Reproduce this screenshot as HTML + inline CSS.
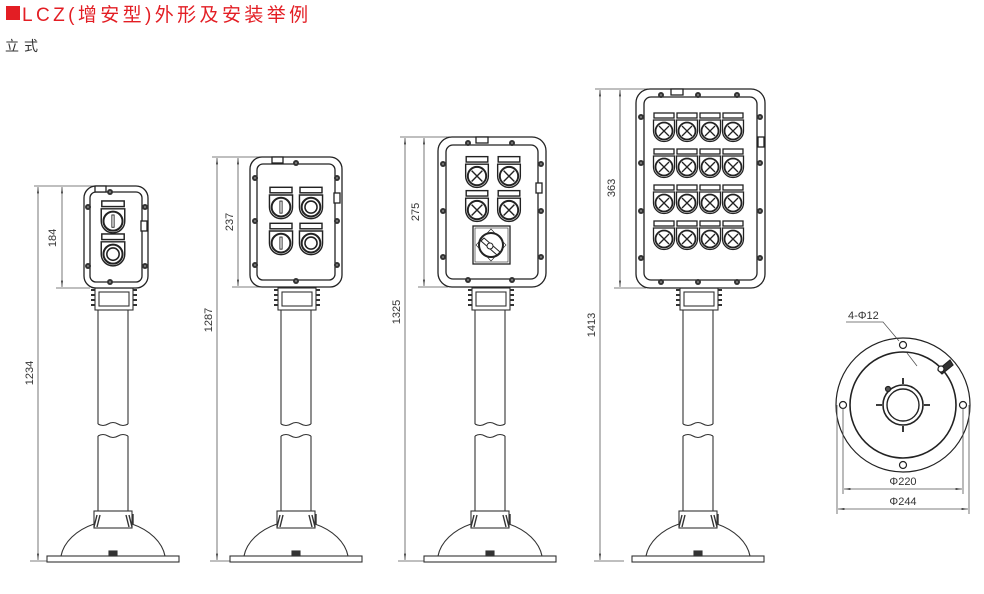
<!DOCTYPE html>
<html><head><meta charset="utf-8"><style>
body{margin:0;background:#fff;width:984px;height:594px;overflow:hidden}
svg{display:block}
text{font-family:"Liberation Sans","Noto Sans CJK SC",sans-serif}
</style></head><body>
<svg width="984" height="594" viewBox="0 0 984 594" xmlns="http://www.w3.org/2000/svg">
<defs>
<marker id="ar" viewBox="0 0 10 10" refX="10" refY="5" markerWidth="8" markerHeight="8" orient="auto-start-reverse"><path d="M0 3.5L10 5L0 6.5z" fill="#333"/></marker>
<g id="bolt"><circle r="3" fill="#333"/><circle r="1" fill="#888"/></g>
<g id="shell" fill="#fff" stroke="#222" stroke-width="1.3"><rect x="-10" y="-17" width="20" height="5"/><path d="M-10.5 -10H10.5V1A10.5 10.5 0 0 1 -10.5 1Z"/></g>
<g id="lamp"><use href="#shell"/><circle cx="0" cy="1" r="8.5" fill="#fff" stroke="#222" stroke-width="1.8"/><path d="M-5 -4L5 6M5 -4L-5 6" stroke="#222" stroke-width="1.3"/></g>
<g id="pbI"><use href="#shell"/><circle cx="0" cy="1" r="8.5" fill="#fff" stroke="#222" stroke-width="1.8"/><rect x="-1" y="-4.5" width="2" height="11" fill="#fff" stroke="#222" stroke-width="0.8"/></g>
<g id="pbO"><use href="#shell"/><circle cx="0" cy="1" r="8.5" fill="#fff" stroke="#222" stroke-width="1.8"/><circle cx="0" cy="1" r="5.5" fill="#fff" stroke="#222" stroke-width="1.4"/></g>
<g id="stand" fill="none" stroke="#333" stroke-width="1.1">
 <rect x="-18" y="288" width="38" height="22" fill="#fff"/>
 <rect x="-14" y="292" width="30" height="14"/>
 <path d="M-22 290h4M-22 295h4M20 290h4M20 295h4M-22 300h4M-22 305h4M20 300h4M20 305h4" stroke-width="2"/>
 <path d="M-15 310V424M15 310V424"/>
 <path d="M-15 424q5 3 10 0t10 0t10 0"/>
 <path d="M-15 436q5 -3 10 0t10 0t10 0"/>
 <path d="M-15 436V511M15 436V511"/>
 <rect x="-19" y="511" width="38" height="17" fill="#fff"/>
 <path d="M-16 515l-3 12M-13 515l-3 12M13 515l3 12M16 515l3 12M20 514v10" stroke-width="1.4"/>
 <path d="M-52 556A60 42 0 0 1 -19 524M19 524A60 42 0 0 1 52 556"/>
 <rect x="-66" y="556" width="132" height="6" fill="#fff"/>
 <rect x="-4" y="551" width="8" height="5" fill="#333"/>
</g>
</defs>

<rect x="6" y="6" width="14" height="14" fill="#e31e24"/>
<text x="22" y="21" font-size="19" fill="#e31e24" letter-spacing="3.4">LCZ(增安型)外形及安装举例</text>
<text x="5" y="51" font-size="14" fill="#333" letter-spacing="5">立式</text>

<g fill="none" stroke="#555" stroke-width="0.8">
 <path d="M34 186H98M56 288H90"/>
 <line x1="38" y1="187" x2="38" y2="560" marker-start="url(#ar)" marker-end="url(#ar)"/>
 <line x1="62" y1="187" x2="62" y2="287" marker-start="url(#ar)" marker-end="url(#ar)"/>
 <path d="M212 157H270M232 287H262"/>
 <line x1="217" y1="158" x2="217" y2="560" marker-start="url(#ar)" marker-end="url(#ar)"/>
 <line x1="238" y1="158" x2="238" y2="286" marker-start="url(#ar)" marker-end="url(#ar)"/>
 <path d="M400 137H460M418 287H448"/>
 <line x1="405" y1="138" x2="405" y2="560" marker-start="url(#ar)" marker-end="url(#ar)"/>
 <line x1="424" y1="138" x2="424" y2="286" marker-start="url(#ar)" marker-end="url(#ar)"/>
 <path d="M595 89H660M614 288H646"/>
 <line x1="600" y1="90" x2="600" y2="560" marker-start="url(#ar)" marker-end="url(#ar)"/>
 <line x1="620" y1="90" x2="620" y2="287" marker-start="url(#ar)" marker-end="url(#ar)"/>
 <path d="M30 561H50M210 561H232M398 561H428M594 561H624"/>
</g>
<g font-size="11" fill="#333">
 <text transform="translate(56 238) rotate(-90)" text-anchor="middle">184</text>
 <text transform="translate(33 373) rotate(-90)" text-anchor="middle">1234</text>
 <text transform="translate(233 222) rotate(-90)" text-anchor="middle">237</text>
 <text transform="translate(212 320) rotate(-90)" text-anchor="middle">1287</text>
 <text transform="translate(419 212) rotate(-90)" text-anchor="middle">275</text>
 <text transform="translate(400 312) rotate(-90)" text-anchor="middle">1325</text>
 <text transform="translate(615 188) rotate(-90)" text-anchor="middle">363</text>
 <text transform="translate(595 325) rotate(-90)" text-anchor="middle">1413</text>
</g>

<use href="#stand" x="113" y="0"/>
<use href="#stand" x="296" y="0"/>
<use href="#stand" x="490" y="0"/>
<use href="#stand" x="698" y="0"/>

<g fill="#fff" stroke="#222" stroke-width="1.3">
 <rect x="84" y="186" width="64" height="102" rx="12"/>
 <rect x="90" y="192" width="52" height="90" rx="6"/>
 <rect x="95" y="186" width="11" height="6"/>
 <rect x="141" y="221" width="6" height="10"/>
</g>
<use href="#bolt" x="110" y="192"/><use href="#bolt" x="88" y="207"/><use href="#bolt" x="145" y="207"/><use href="#bolt" x="88" y="266"/><use href="#bolt" x="145" y="266"/><use href="#bolt" x="110" y="282"/>
<use href="#pbI" transform="translate(113 220) scale(1.12)"/><use href="#pbO" transform="translate(113 253) scale(1.12)"/>

<g fill="#fff" stroke="#222" stroke-width="1.3">
 <rect x="250" y="157" width="92" height="130" rx="12"/>
 <rect x="257" y="164" width="78" height="116" rx="6"/>
 <rect x="272" y="157" width="11" height="6"/>
 <rect x="334" y="193" width="6" height="10"/>
</g>
<use href="#bolt" x="296" y="163"/><use href="#bolt" x="255" y="178"/><use href="#bolt" x="337" y="178"/><use href="#bolt" x="255" y="221"/><use href="#bolt" x="337" y="221"/><use href="#bolt" x="255" y="265"/><use href="#bolt" x="337" y="265"/><use href="#bolt" x="296" y="281"/>
<use href="#pbI" transform="translate(281 206) scale(1.1)"/><use href="#pbO" transform="translate(311 206) scale(1.1)"/><use href="#pbI" transform="translate(281 242) scale(1.1)"/><use href="#pbO" transform="translate(311 242) scale(1.1)"/>

<g fill="#fff" stroke="#222" stroke-width="1.3">
 <rect x="438" y="137" width="108" height="150" rx="14"/>
 <rect x="446" y="145" width="92" height="134" rx="7"/>
 <rect x="476" y="137" width="12" height="6"/>
 <rect x="536" y="183" width="6" height="10"/>
</g>
<use href="#bolt" x="468" y="143"/><use href="#bolt" x="512" y="143"/><use href="#bolt" x="443" y="164"/><use href="#bolt" x="541" y="164"/><use href="#bolt" x="443" y="211"/><use href="#bolt" x="541" y="211"/><use href="#bolt" x="443" y="257"/><use href="#bolt" x="541" y="257"/><use href="#bolt" x="468" y="280"/><use href="#bolt" x="512" y="280"/>
<use href="#lamp" transform="translate(477 175) scale(1.08)"/><use href="#lamp" transform="translate(509 175) scale(1.08)"/><use href="#lamp" transform="translate(477 209) scale(1.08)"/><use href="#lamp" transform="translate(509 209) scale(1.08)"/>
<g fill="#fff" stroke="#222" stroke-width="1.3">
 <rect x="473" y="226" width="37" height="38"/>
 <rect x="475" y="228" width="33" height="34" stroke-width="0.6"/>
 <path d="M491 229L506 245L491 261L476 245Z" stroke-width="0.6"/>
 <circle cx="491" cy="245" r="12" stroke-width="2"/>
 <path d="M484 238L500 252L497 255L481 241Z" stroke-width="1"/>
 <circle cx="490" cy="246" r="3" stroke-width="1"/>
</g>

<g fill="#fff" stroke="#222" stroke-width="1.3">
 <rect x="636" y="89" width="129" height="199" rx="14"/>
 <rect x="644" y="97" width="113" height="183" rx="7"/>
 <rect x="671" y="89" width="12" height="6"/>
 <rect x="758" y="137" width="6" height="10"/>
</g>
<use href="#bolt" x="661" y="95"/><use href="#bolt" x="698" y="95"/><use href="#bolt" x="737" y="95"/>
<use href="#bolt" x="641" y="117"/><use href="#bolt" x="760" y="117"/><use href="#bolt" x="641" y="163"/><use href="#bolt" x="760" y="163"/><use href="#bolt" x="641" y="211"/><use href="#bolt" x="760" y="211"/><use href="#bolt" x="641" y="258"/><use href="#bolt" x="760" y="258"/>
<use href="#bolt" x="661" y="282"/><use href="#bolt" x="698" y="282"/><use href="#bolt" x="737" y="282"/>
<g>
 <use href="#lamp" x="664" y="130"/><use href="#lamp" x="687" y="130"/><use href="#lamp" x="710" y="130"/><use href="#lamp" x="733" y="130"/>
 <use href="#lamp" x="664" y="166"/><use href="#lamp" x="687" y="166"/><use href="#lamp" x="710" y="166"/><use href="#lamp" x="733" y="166"/>
 <use href="#lamp" x="664" y="202"/><use href="#lamp" x="687" y="202"/><use href="#lamp" x="710" y="202"/><use href="#lamp" x="733" y="202"/>
 <use href="#lamp" x="664" y="238"/><use href="#lamp" x="687" y="238"/><use href="#lamp" x="710" y="238"/><use href="#lamp" x="733" y="238"/>
</g>

<g fill="none" stroke="#222" stroke-width="1.2">
 <circle cx="903" cy="405" r="67"/>
 <circle cx="903" cy="405" r="53" stroke-width="1.6"/>
 <circle cx="903" cy="405" r="20" stroke-width="1.6"/>
 <circle cx="903" cy="405" r="16" stroke-width="1.4"/>
 <circle cx="843" cy="405" r="3.5"/><circle cx="963" cy="405" r="3.5"/><circle cx="903" cy="345" r="3.5"/><circle cx="903" cy="465" r="3.5"/>
 <path d="M903 378v6M903 426v6M876 405h6M924 405h6" stroke-width="1.8"/>
 <circle cx="888" cy="389" r="2.5" fill="#555"/>
 <path d="M938 370l12 -10l3 5l-11 9z" fill="#333"/>
 <circle cx="941" cy="369" r="3" fill="#fff"/>
</g>
<g stroke="#555" stroke-width="0.8" fill="none">
 <path d="M843 408V494M963 408V494M837 405V514M969 405V514"/>
 <line x1="844" y1="489" x2="962" y2="489" marker-start="url(#ar)" marker-end="url(#ar)"/>
 <line x1="838" y1="509" x2="968" y2="509" marker-start="url(#ar)" marker-end="url(#ar)"/>
 <path d="M846 322H883L899 341M907 353L917 366"/>
</g>
<g font-size="11" fill="#333">
 <text x="848" y="319">4-Φ12</text>
 <text x="903" y="485" text-anchor="middle">Φ220</text>
 <text x="903" y="505" text-anchor="middle">Φ244</text>
</g>
</svg>
</body></html>
